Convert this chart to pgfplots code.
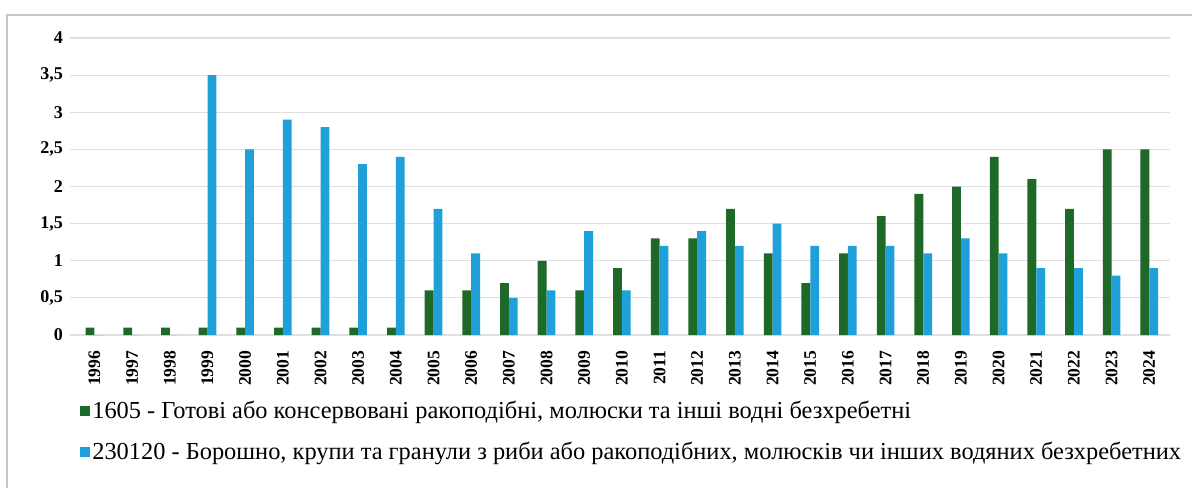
\documentclass[border=0pt]{standalone}
\usepackage{fontspec}
\setmainfont{Liberation Serif}
\usepackage{pgfplots}
\pgfplotsset{compat=1.18}
\definecolor{gr}{RGB}{30,104,40}
\definecolor{bl}{RGB}{31,160,216}

\begin{document}
\begin{tikzpicture}
\path[use as bounding box] (0,0) rectangle (596pt,244pt);
\draw[gray!45, line width=0.8pt] (3.5pt,0) -- (3.5pt,236.5pt) -- (596pt,236.5pt);
\begin{axis}[
  at={(35pt,76.5pt)}, anchor=south west,
  scale only axis,
  width=550pt, height=148.5pt,
  ybar=0pt,
  bar width=4.4pt,
  xmin=1995.35, xmax=2024.55,
  ymin=0, ymax=4,
  xtick={1996,...,2024},
  ytick={0,0.5,...,4},
  axis line style={draw=none},
  tick style={draw=none},
  ymajorgrids=true,
  grid style={gray!25, line width=0.6pt},
  /pgf/number format/assume math mode=true,
  yticklabel style={font=\fontsize{9}{10}\selectfont\bfseries,
    /pgf/number format/.cd, use comma, fixed},
  xticklabel style={font=\fontsize{8.8}{10}\selectfont\bfseries, rotate=90, anchor=east,
    /pgf/number format/.cd, 1000 sep={}},
  legend style={at={(0.009,-0.215)}, anchor=north west, draw=none, fill=none,
    legend columns=1, row sep=8pt,
    font=\fontsize{12.2}{13}\selectfont, inner sep=0pt,
    nodes={inner sep=1pt}},
  legend cell align=left,
  legend image code/.code={\fill[#1] (0pt,-2.5pt) rectangle (5pt,2.5pt);},
]
\addplot[fill=gr, draw=none] coordinates {
  (1996,0.1)(1997,0.1)(1998,0.1)(1999,0.1)(2000,0.1)(2001,0.1)(2002,0.1)
  (2003,0.1)(2004,0.1)(2005,0.6)(2006,0.6)(2007,0.7)(2008,1.0)(2009,0.6)
  (2010,0.9)(2011,1.3)(2012,1.3)(2013,1.7)(2014,1.1)(2015,0.7)(2016,1.1)
  (2017,1.6)(2018,1.9)(2019,2.0)(2020,2.4)(2021,2.1)(2022,1.7)(2023,2.5)
  (2024,2.5)};
\addplot[fill=bl, draw=none] coordinates {
  (1996,0)(1997,0)(1998,0)(1999,3.5)(2000,2.5)(2001,2.9)(2002,2.8)
  (2003,2.3)(2004,2.4)(2005,1.7)(2006,1.1)(2007,0.5)(2008,0.6)(2009,1.4)
  (2010,0.6)(2011,1.2)(2012,1.4)(2013,1.2)(2014,1.5)(2015,1.2)(2016,1.2)
  (2017,1.2)(2018,1.1)(2019,1.3)(2020,1.1)(2021,0.9)(2022,0.9)(2023,0.8)
  (2024,0.9)};
\legend{{1605 - Готові або консервовані ракоподібні, молюски та інші водні безхребетні},
        {230120 - Борошно, крупи та гранули з риби або ракоподібних, молюсків чи інших водяних безхребетних}}
\end{axis}
\end{tikzpicture}
\end{document}
